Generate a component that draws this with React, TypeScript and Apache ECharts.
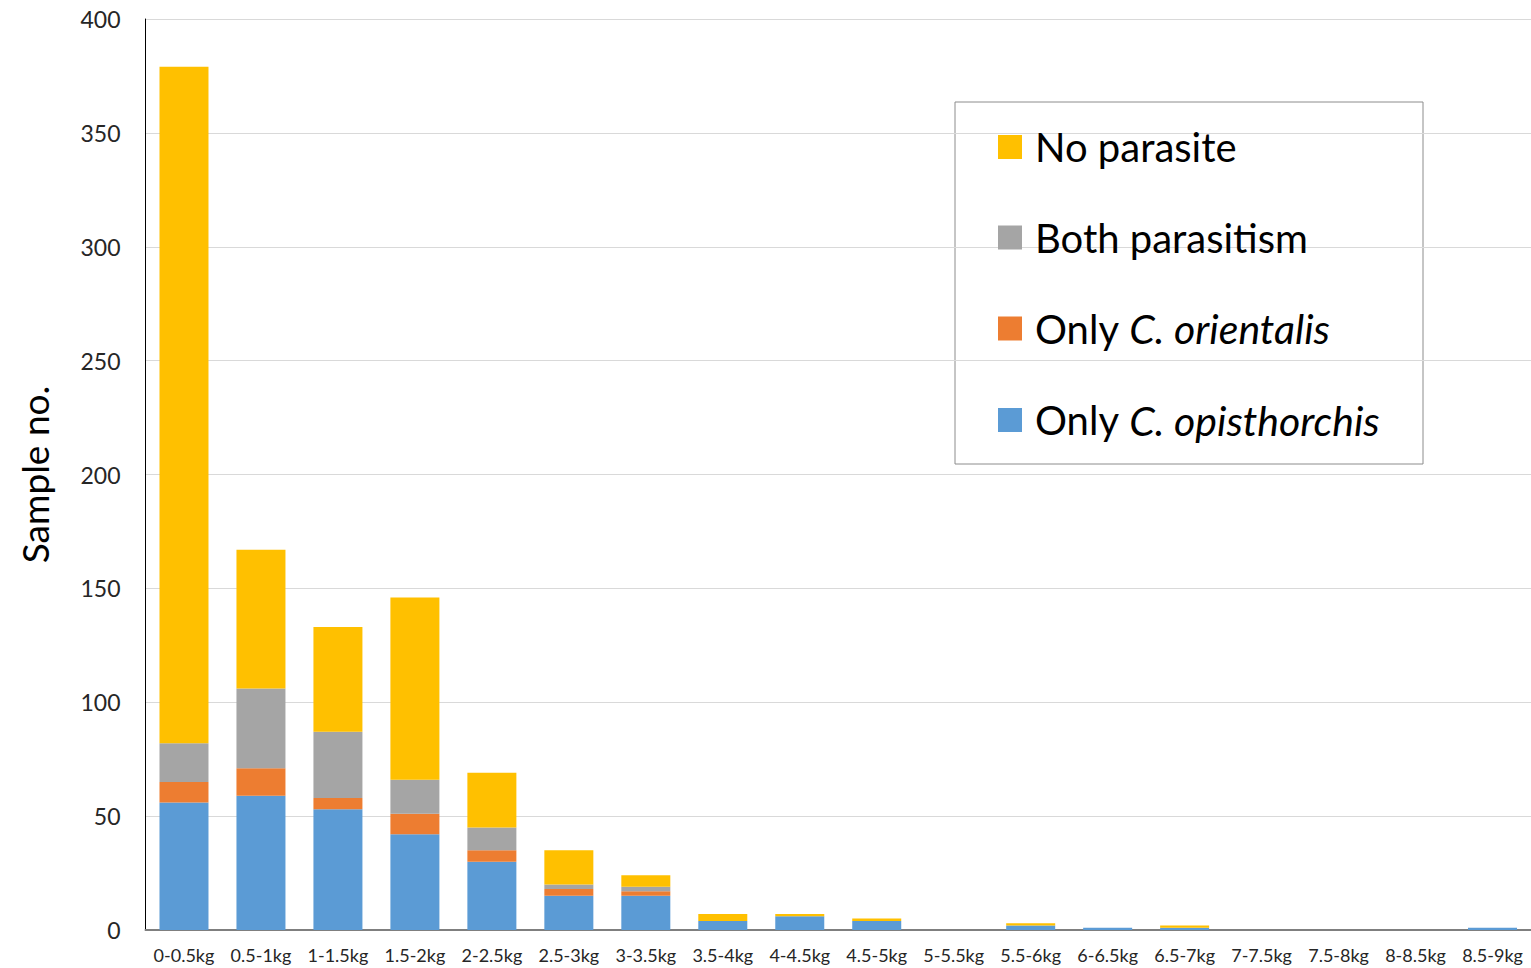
import React, { useEffect, useRef } from "react";
import * as echarts from "echarts";

const categories = ["0-0.5kg","0.5-1kg","1-1.5kg","1.5-2kg","2-2.5kg","2.5-3kg","3-3.5kg","3.5-4kg","4-4.5kg","4.5-5kg","5-5.5kg","5.5-6kg","6-6.5kg","6.5-7kg","7-7.5kg","7.5-8kg","8-8.5kg","8.5-9kg"];
const onlyOpisthorchis = [56, 59, 53, 42, 30, 15, 15, 4, 6, 4, 0, 2, 1, 1, 0, 0, 0, 1];
const onlyOrientalis = [9, 12, 5, 9, 5, 3, 2, 0, 0, 0, 0, 0, 0, 0, 0, 0, 0, 0];
const bothParasitism = [17, 35, 29, 15, 10, 2, 2, 0, 0, 0, 0, 0, 0, 0, 0, 0, 0, 0];
const noParasite = [297, 61, 46, 80, 24, 15, 5, 3, 1, 1, 0, 1, 0, 1, 0, 0, 0, 0];
const yTicks = { min: 0, max: 400, interval: 50 };

const FONT = "Lato";

export default function App() {
  const ref = useRef<HTMLDivElement>(null);
  useEffect(() => {
    document.body.style.margin = "0";
    const chart = echarts.init(ref.current!, null, { renderer: "svg" });
    const mk = (name: string, data: number[], color: string) => ({
      name,
      type: "bar",
      stack: "total",
      data,
      barWidth: 49,
      itemStyle: { color },
      emphasis: { disabled: true },
    });
    chart.setOption({
      animation: false,
      textStyle: { fontFamily: FONT },
      grid: { left: 145.5, right: 0, top: 19, bottom: 38, containLabel: false },
      xAxis: {
        type: "category",
        data: categories,
        axisLine: { lineStyle: { color: "#7f7f7f", width: 2 } },
        axisTick: { show: false },
        axisLabel: { color: "#262626", fontSize: 18, margin: 16, fontFamily: FONT, interval: 0 },
      },
      yAxis: {
        type: "value",
        min: yTicks.min,
        max: yTicks.max,
        interval: yTicks.interval,
        name: "Sample no.",
        nameLocation: "middle",
        nameGap: 93,
        nameRotate: 90,
        nameTextStyle: { fontSize: 37, color: "#000", fontFamily: FONT },
        axisLine: { show: true, lineStyle: { color: "#000", width: 1 } },
        axisTick: { show: false },
        axisLabel: { color: "#262626", fontSize: 23, margin: 25, fontFamily: FONT },
        splitLine: { lineStyle: { color: "#d9d9d9", width: 1 } },
      },
      legend: {
        orient: "vertical",
        left: 998,
        top: 127,
        padding: 0,
        itemWidth: 24,
        itemHeight: 24,
        itemGap: 50.5,
        icon: "rect",
        data: ["No parasite", "Both parasitism", "Only C. orientalis", "Only C. opisthorchis"],
        formatter: (name: string) =>
          name.startsWith("Only ") ? "Only {i|" + name.slice(5) + "}" : name,
        textStyle: {
          fontSize: 40,
          color: "#000",
          fontFamily: FONT,
          lineHeight: 40,
          padding: [0, 0, 0, 8],
          rich: { i: { fontStyle: "italic", fontSize: 41, fontFamily: FONT, lineHeight: 40 } },
        },
        selectedMode: false,
      },
      graphic: [
        {
          type: "rect",
          shape: { x: 955, y: 102, width: 468, height: 362 },
          style: { fill: "none", stroke: "#8c8c8c", lineWidth: 1 },
          silent: true,
        },
      ],
      series: [
        mk("Only C. opisthorchis", onlyOpisthorchis, "#5b9bd5"),
        mk("Only C. orientalis", onlyOrientalis, "#ed7d31"),
        mk("Both parasitism", bothParasitism, "#a5a5a5"),
        mk("No parasite", noParasite, "#ffc000"),
      ],
    });
    return () => chart.dispose();
  }, []);
  return <div ref={ref} style={{ width: 1531, height: 968 }} />;
}
